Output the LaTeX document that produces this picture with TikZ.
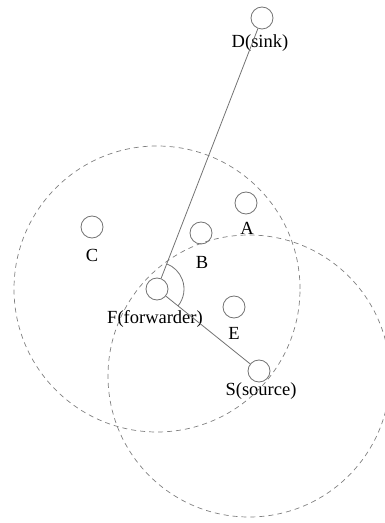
\documentclass[tikz,border=0pt]{standalone}
\usepackage{fontspec}
\setmainfont{Liberation Serif}
\begin{document}
\begin{tikzpicture}[x=1pt,y=1pt,
  dev/.style={circle,draw=black!55,line width=0.8pt,minimum size=22pt,inner sep=0pt},
  lbl/.style={inner sep=0pt,font=\fontsize{18.5}{22}\selectfont},
  link/.style={draw=black!55,line width=0.8pt},
  radiorange/.style={draw=black!50,line width=0.7pt,dash pattern=on 5pt off 4pt}]
\useasboundingbox (0,0) rectangle (385,523);
\node[dev] (D) at (262,505) {};
\node[dev] (A) at (246,320) {};
\node[dev] (B) at (201,290) {};
\node[dev] (C) at (92,296) {};
\node[dev] (F) at (157,234) {};
\node[dev] (E) at (234,216) {};
\node[dev] (S) at (259,152) {};
\node[lbl] (Dl) at (260,480) {D(sink)};
\node[lbl] (Al) at (247,295) {A};
\node[lbl] (Bl) at (202,261) {B};
\node[lbl] (Cl) at (92,268) {C};
\node[lbl] (Fl) at (155,204) {F(forwarder)};
\node[lbl] (El) at (234,190) {E};
\node[lbl] (Sl) at (261,132) {S(source)};
\begin{scope}
\clip (0,0) rectangle (385,523);
\draw[radiorange] (F.center) circle[radius=143];
\draw[radiorange] (249,147) circle[radius=141];
\end{scope}
\draw[link] (D) -- (F);
\draw[link] (F) -- (S);
\draw[link] (F.center) ++(-39:27) arc[start angle=-39,end angle=69,radius=27];
\end{tikzpicture}
\end{document}
